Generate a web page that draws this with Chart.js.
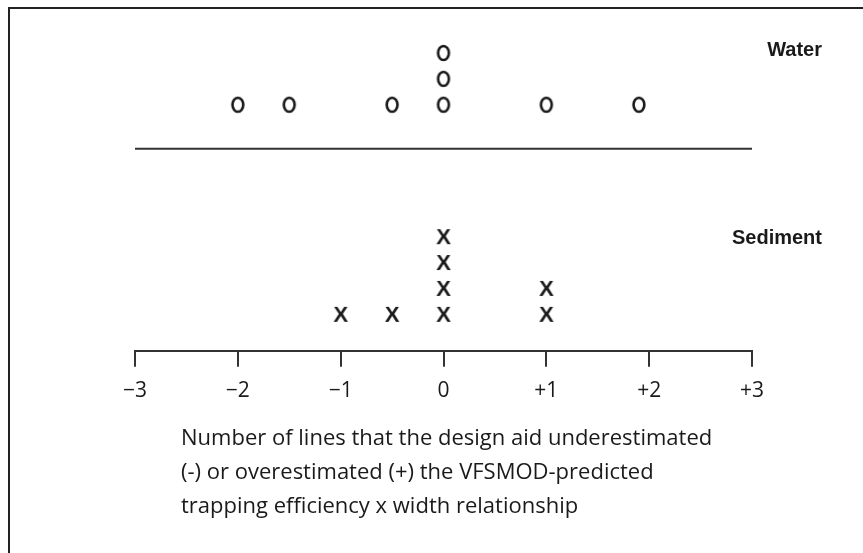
<!DOCTYPE html>
<html>
<head>
<meta charset="utf-8">
<script src="https://cdn.jsdelivr.net/npm/chart.js@4/dist/chart.umd.min.js"></script>
<style>
  html, body { margin: 0; padding: 0; background: #fff; }
  #wrap { position: relative; width: 863px; height: 553px; }
</style>
</head>
<body>
<div id="wrap"><canvas id="c" width="863" height="553"></canvas></div>
<script>
// ---- data ----
const xTicks = [-3, -2, -1, 0, 1, 2, 3];
const xTickLabels = ['\u22123', '\u22122', '\u22121', '0', '+1', '+2', '+3'];
const waterValues = [-2, -1.5, -0.5, 0, 0, 0, 1, 1.9];
const sedimentValues = [-1, -0.5, 0, 0, 0, 0, 1, 1];
const groupNames = ['Water', 'Sediment'];
const captionLines = [
  'Number of lines that the design aid underestimated',
  '(-) or overestimated (+) the VFSMOD-predicted',
  'trapping efficiency x width relationship'
];

// vertical layout (row units)
const sedimentBase = 1.35;
const waterBase = 9.5;
const separatorLevel = 7.8;

function stackPoints(values, base) {
  const seen = {};
  return values.map(v => {
    const k = String(v);
    seen[k] = (seen[k] || 0);
    const p = { x: v, y: base + seen[k] };
    seen[k] += 1;
    return p;
  });
}

function makeO() {
  const c = document.createElement('canvas');
  c.width = 24; c.height = 26;
  const g = c.getContext('2d');
  g.strokeStyle = '#1a1a1a';
  g.lineWidth = 2.6;
  g.beginPath();
  g.ellipse(12, 13, 5.4, 7, 0, 0, Math.PI * 2);
  g.stroke();
  return c;
}
function makeX() {
  const c = document.createElement('canvas');
  c.width = 26; c.height = 28;
  const g = c.getContext('2d');
  g.fillStyle = '#1a1a1a';
  g.font = "bold 22px 'Liberation Sans Narrow', 'Liberation Sans', Arial, sans-serif";
  g.textAlign = 'center';
  g.textBaseline = 'middle';
  g.fillText('X', 13, 14);
  return c;
}

const frameAndText = {
  id: 'frameAndText',
  beforeDraw(chart) {
    const ctx = chart.ctx;
    ctx.save();
    ctx.fillStyle = '#fff';
    ctx.fillRect(0, 0, chart.width, chart.height);
    ctx.strokeStyle = '#222';
    ctx.lineWidth = 2;
    ctx.beginPath();
    ctx.moveTo(9, 553);
    ctx.lineTo(9, 8);
    ctx.lineTo(863, 8);
    ctx.stroke();
    ctx.restore();
  },
  afterDraw(chart) {
    const ctx = chart.ctx;
    const ys = chart.scales.y;
    ctx.save();
    ctx.fillStyle = '#1a1a1a';
    ctx.font = "bold 20px 'Liberation Sans Narrow', 'Liberation Sans', Arial, sans-serif";
    ctx.textAlign = 'right';
    ctx.textBaseline = 'middle';
    ctx.fillText(groupNames[0], 822, ys.getPixelForValue(11.6));
    ctx.fillText(groupNames[1], 822, ys.getPixelForValue(4.35));
    ctx.font = "22px 'Open Sans', sans-serif";
    ctx.textAlign = 'left';
    captionLines.forEach((t, i) => ctx.fillText(t, 181, 439 + i * 34));
    ctx.restore();
  }
};

new Chart(document.getElementById('c'), {
  type: 'scatter',
  data: {
    datasets: [
      {
        label: groupNames[0],
        data: stackPoints(waterValues, waterBase),
        pointStyle: makeO(),
        pointRadius: 10
      },
      {
        label: groupNames[1],
        data: stackPoints(sedimentValues, sedimentBase),
        pointStyle: makeX(),
        pointRadius: 10
      },
      {
        label: 'separator',
        data: [{ x: xTicks[0], y: separatorLevel }, { x: xTicks[xTicks.length - 1], y: separatorLevel }],
        showLine: true,
        borderColor: '#333',
        borderWidth: 2,
        pointRadius: 0
      }
    ]
  },
  plugins: [frameAndText],
  options: {
    responsive: false,
    animation: false,
    events: [],
    layout: { padding: { left: 135, right: 111, top: 40, bottom: 137 } },
    plugins: { legend: { display: false }, tooltip: { enabled: false } },
    scales: {
      x: {
        type: 'linear',
        min: -3, max: 3,
        afterBuildTicks: s => { s.ticks = xTicks.map(v => ({ value: v })); },
        ticks: {
          color: '#1a1a1a',
          font: { family: "'Open Sans', sans-serif", size: 21 },
          padding: 12,
          maxRotation: 0,
          autoSkip: false,
          callback: v => xTickLabels[xTicks.indexOf(v)]
        },
        grid: { drawOnChartArea: false, drawTicks: true, tickLength: 16, color: '#333', lineWidth: 2 },
        border: { display: true, color: '#333', width: 2 }
      },
      y: { display: false, min: 0, max: 12 }
    }
  }
});
</script>
</body>
</html>
